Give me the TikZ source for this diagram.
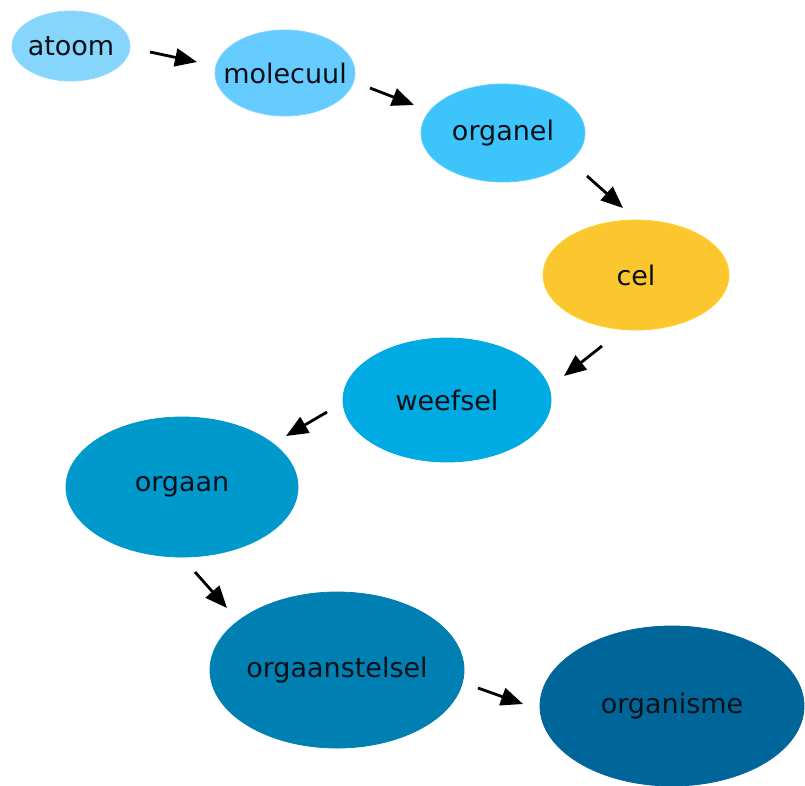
\documentclass[tikz,border=0pt]{standalone}
\usepackage{fontspec}
\setmainfont{DejaVu Sans}
\usetikzlibrary{shapes.geometric,arrows.meta}
\definecolor{cAtoom}{HTML}{86D5FA}
\definecolor{cMol}{HTML}{66CCFF}
\definecolor{cOrganel}{HTML}{3CC4FB}
\definecolor{cCel}{HTML}{FCC72E}
\definecolor{cWeef}{HTML}{00AAE2}
\definecolor{cOrgaan}{HTML}{0099CC}
\definecolor{cStelsel}{HTML}{0080B2}
\definecolor{cOrganisme}{HTML}{006699}
\definecolor{txt}{HTML}{0A1018}
\tikzset{
  blob/.style={ellipse, inner sep=0pt, line width=0.8pt,
    label={[text=txt, font=\fontsize{27}{32}\selectfont, inner sep=0pt]center:#1}},
  arr/.style={line width=2.8pt, -{Triangle[length=22pt,width=18pt]}}
}
\begin{document}
\begin{tikzpicture}[x=1pt,y=-1pt]
\useasboundingbox (0,0) rectangle (805,785);
\node[blob=atoom, fill=cAtoom, draw=cMol!70!white, minimum width=118pt, minimum height=70pt] (atoom) at (71,46) {};
\node[blob=molecuul, fill=cMol, draw=cMol!85!white, minimum width=140pt, minimum height=86pt] (molecuul) at (285,73) {};
\node[blob=organel, fill=cOrganel, draw=cOrganel!85!white, minimum width=164pt, minimum height=98pt] (organel) at (503,133) {};
\node[blob=cel, fill=cCel, draw=cCel!80!yellow, minimum width=186pt, minimum height=110pt] (cel) at (636,275) {};
\node[blob=weefsel, fill=cWeef, draw=cWeef, minimum width=208pt, minimum height=124pt] (weefsel) at (447,400) {};
\node[blob=orgaan, fill=cOrgaan, draw=cOrgaan, minimum width=232pt, minimum height=140pt] (orgaan) at (182,487) {};
\node[blob=orgaanstelsel, fill=cStelsel, draw=cStelsel, minimum width=254pt, minimum height=156pt] (stelsel) at (337,670) {};
\node[blob=organisme, fill=cOrganisme, draw=cOrganisme, minimum width=264pt, minimum height=160pt] (organisme) at (672,706) {};
% arrow ends
\coordinate (t1) at (150,52);  \coordinate (h1) at (197,62);
\coordinate (t2) at (370,88);  \coordinate (h2) at (414,105);
\coordinate (t3) at (587,176); \coordinate (h3) at (623,208);
\coordinate (t4) at (602,346); \coordinate (h4) at (564,376);
\coordinate (t5) at (327,412); \coordinate (h5) at (286,436);
\coordinate (t6) at (195,572); \coordinate (h6) at (227,608);
\coordinate (t7) at (478,688); \coordinate (h7) at (523,704);
\draw[arr] (t1) -- (h1);
\draw[arr] (t2) -- (h2);
\draw[arr] (t3) -- (h3);
\draw[arr] (t4) -- (h4);
\draw[arr] (t5) -- (h5);
\draw[arr] (t6) -- (h6);
\draw[arr] (t7) -- (h7);
\end{tikzpicture}
\end{document}
